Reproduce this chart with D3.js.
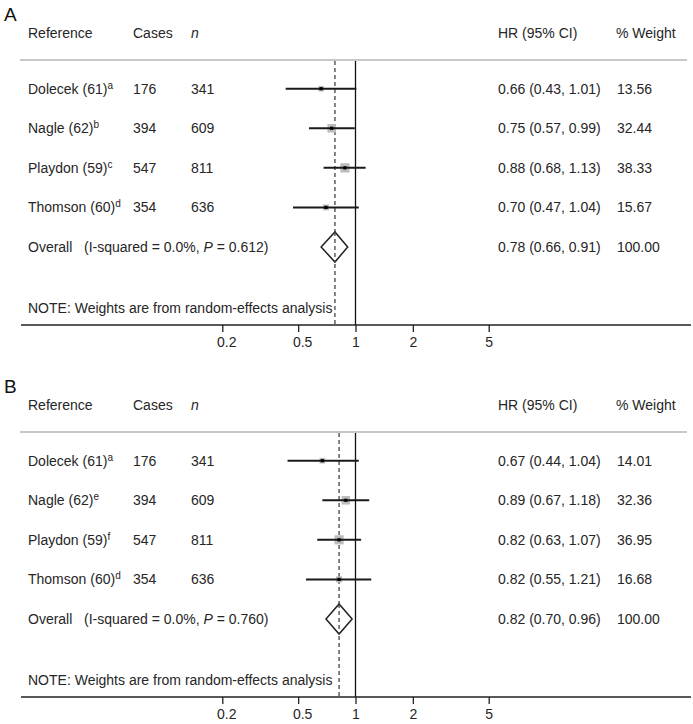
<!DOCTYPE html>
<html><head><meta charset="utf-8">
<script src="https://cdn.jsdelivr.net/npm/d3@7/dist/d3.min.js"></script>
<style>body{margin:0;background:#fff}svg{display:block;font-family:"Liberation Sans",Arial,sans-serif}</style>
</head><body><svg id="c" width="693" height="724"></svg>
<script>
// ---- data ----
const studies = ["Dolecek (61)", "Nagle (62)", "Playdon (59)", "Thomson (60)"];
const cases = [176, 394, 547, 354];
const nTotal = [341, 609, 811, 636];
const supA = ["a", "b", "c", "d"];
const supB = ["a", "e", "f", "d"];
const hrA = [0.66, 0.75, 0.88, 0.70];
const loA = [0.43, 0.57, 0.68, 0.47];
const hiA = [1.01, 0.99, 1.13, 1.04];
const wA = [13.56, 32.44, 38.33, 15.67];
const overallA = {hr: 0.78, lo: 0.66, hi: 0.91, p: "0.612", i2: "0.0%"};
const hrB = [0.67, 0.89, 0.82, 0.82];
const loB = [0.44, 0.67, 0.63, 0.55];
const hiB = [1.04, 1.18, 1.07, 1.21];
const wB = [14.01, 32.36, 36.95, 16.68];
const overallB = {hr: 0.82, lo: 0.70, hi: 0.96, p: "0.760", i2: "0.0%"};
const tickValues = [0.2, 0.5, 1, 2, 5];
const headers = ["Reference", "Cases", "n", "HR (95% CI)", "% Weight"];

const svg = d3.select("#c");
svg.append("rect").attr("width", 693).attr("height", 724).attr("fill", "#fff");
const x = d3.scaleLog().domain([0.2, 5]).range([222.3, 488.7]);
const f2 = d3.format(".2f");
const txt = "#262626";

function panel(label, oy, sup, hr, lo, hi, w, ov) {
  const g = svg.append("g").attr("transform", `translate(0,${oy})`);
  const y = d3.scaleLinear().domain([0, 4]).range([88.7, 247]);
  const colX = [28, 133, 191, 498, 616];
  g.append("text").attr("x", 4).attr("y", 21).attr("font-size", 19).attr("fill", "#111").text(label);
  headers.forEach((h, i) => {
    g.append("text").attr("x", colX[i]).attr("y", 38).attr("font-size", 14).attr("fill", txt)
      .attr("font-style", h === "n" ? "italic" : "normal").text(h);
  });
  g.append("line").attr("x1", 20).attr("x2", 687).attr("y1", 60).attr("y2", 60)
    .attr("stroke", "#c8c8c8").attr("stroke-width", 2);
  // reference lines
  g.append("line").attr("x1", x(1)).attr("x2", x(1)).attr("y1", 61).attr("y2", 325)
    .attr("stroke", "#111").attr("stroke-width", 1.3);
  g.append("line").attr("x1", x(ov.hr)).attr("x2", x(ov.hr)).attr("y1", 61).attr("y2", 325)
    .attr("stroke", "#444").attr("stroke-width", 1.3).attr("stroke-dasharray", "4,3");
  studies.forEach((s, i) => {
    const yy = y(i);
    const t = g.append("text").attr("x", colX[0]).attr("y", yy + 5).attr("font-size", 14).attr("fill", txt);
    t.append("tspan").text(s);
    t.append("tspan").attr("font-size", 10).attr("dy", -5).text(sup[i]);
    g.append("text").attr("x", colX[1]).attr("y", yy + 5).attr("font-size", 14).attr("fill", txt).text(cases[i]);
    g.append("text").attr("x", colX[2]).attr("y", yy + 5).attr("font-size", 14).attr("fill", txt).text(nTotal[i]);
    g.append("text").attr("x", colX[3]).attr("y", yy + 5).attr("font-size", 14).attr("fill", txt)
      .text(`${f2(hr[i])} (${f2(lo[i])}, ${f2(hi[i])})`);
    g.append("text").attr("x", colX[4] + 1).attr("y", yy + 5).attr("font-size", 14).attr("fill", txt).text(f2(w[i]));
    const side = 1.5 * Math.sqrt(w[i]);
    g.append("rect").attr("x", x(hr[i]) - side / 2).attr("y", yy - side / 2)
      .attr("width", side).attr("height", side).attr("fill", "#bdbdbd");
    g.append("line").attr("x1", x(lo[i])).attr("x2", x(hi[i])).attr("y1", yy).attr("y2", yy)
      .attr("stroke", "#1a1a1a").attr("stroke-width", 2);
    g.append("rect").attr("x", x(hr[i]) - 1.6).attr("y", yy - 1.6).attr("width", 3.2).attr("height", 3.2).attr("fill", "#000");
  });
  // overall
  const yo = y(4);
  const t = g.append("text").attr("x", colX[0]).attr("y", yo + 5).attr("font-size", 14).attr("fill", txt)
    .attr("xml:space", "preserve");
  t.append("tspan").text(`Overall   (I-squared = ${ov.i2}, `);
  t.append("tspan").attr("font-style", "italic").text("P");
  t.append("tspan").text(` = ${ov.p})`);
  g.append("text").attr("x", colX[3]).attr("y", yo + 5).attr("font-size", 14).attr("fill", txt)
    .text(`${f2(ov.hr)} (${f2(ov.lo)}, ${f2(ov.hi)})`);
  g.append("text").attr("x", colX[4] + 1).attr("y", yo + 5).attr("font-size", 14).attr("fill", txt).text("100.00");
  g.append("path").attr("d", `M${x(ov.lo)},${yo} L${x(ov.hr)},${yo - 15} L${x(ov.hi)},${yo} L${x(ov.hr)},${yo + 15} Z`)
    .attr("fill", "#fff").attr("stroke", "#222").attr("stroke-width", 1.5);
  // redraw dashed over the diamond fill
  g.append("line").attr("x1", x(ov.hr)).attr("x2", x(ov.hr)).attr("y1", yo - 15).attr("y2", yo + 15)
    .attr("stroke", "#444").attr("stroke-width", 1.3).attr("stroke-dasharray", "4,3");
  g.append("text").attr("x", 28).attr("y", 313).attr("font-size", 14).attr("fill", txt)
    .text("NOTE: Weights are from random-effects analysis");
  // axis
  g.append("line").attr("x1", 21).attr("x2", 691).attr("y1", 325).attr("y2", 325)
    .attr("stroke", "#222").attr("stroke-width", 1.5);
  const ax = g.append("g").attr("transform", "translate(0,325)")
    .call(d3.axisBottom(x).tickValues(tickValues).tickFormat(d => d).tickSize(7).tickSizeOuter(0).tickPadding(5));
  ax.select(".domain").remove();
  ax.selectAll(".tick line").attr("stroke", "#222").attr("stroke-width", 1.3);
  ax.selectAll(".tick text").attr("font-size", 14).attr("fill", txt).attr("font-family", "Liberation Sans, Arial, sans-serif")
    .attr("dx", d => d < 1 ? 4 : 0);
}

panel("A", 0, supA, hrA, loA, hiA, wA, overallA);
panel("B", 372, supB, hrB, loB, hiB, wB, overallB);
</script></body></html>
